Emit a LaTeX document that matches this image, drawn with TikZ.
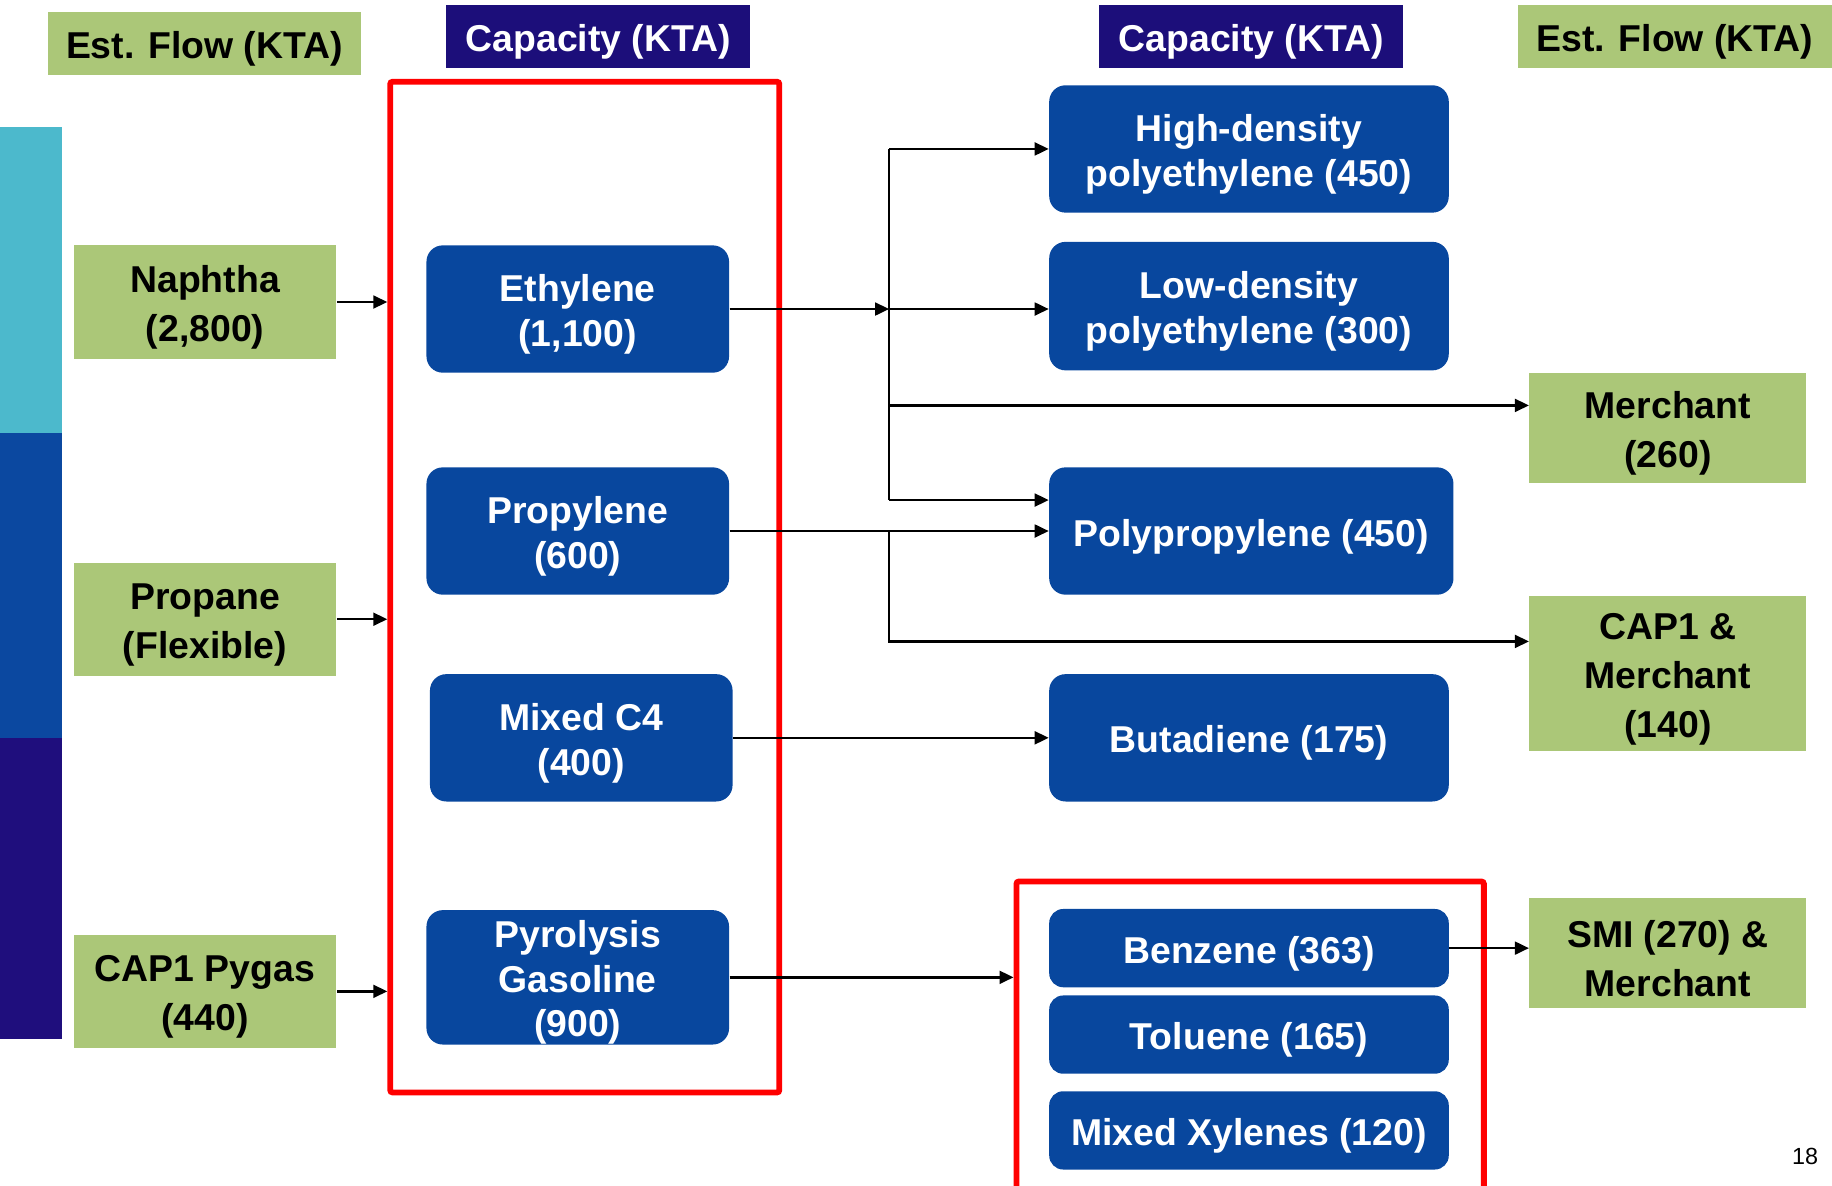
\documentclass[tikz,border=0pt]{standalone}
\usepackage{fontspec}
\setmainfont{Liberation Sans}
\usetikzlibrary{arrows.meta, positioning}
\definecolor{leafgreen}{RGB}{171,199,120}
\definecolor{headnavy}{RGB}{28,14,122}
\definecolor{boxblue}{RGB}{8,71,158}
\definecolor{barteal}{RGB}{76,185,204}
\definecolor{barblue}{RGB}{11,72,160}
\definecolor{barindigo}{RGB}{31,14,125}
\newcommand{\toppad}{\rule{0pt}{16.2pt}}
\tikzset{
	greenbox/.style 2 args={fill=leafgreen, inner sep=0pt, align=center, execute at begin node=\toppad,
		minimum width=#1, minimum height=#2, font=\fontsize{16}{21}\selectfont\bfseries}
}
\tikzset{
	headbox/.style={fill=headnavy, text=white, inner sep=0pt, minimum width=130pt, execute at begin node=\toppad,
		minimum height=27pt, font=\fontsize{16}{19}\selectfont\bfseries}
}
\tikzset{
	bluebox/.style 2 args={fill=boxblue, text=white, rounded corners=7pt, inner sep=0pt, execute at begin node=\toppad,
		align=center, minimum width=#1, minimum height=#2, font=\fontsize{16}{19.5}\selectfont\bfseries}
}
\tikzset{
	redframe/.style 2 args={draw=red, line width=2.5pt, rounded corners=1pt, inner sep=0pt,
		minimum width=#1, minimum height=#2}
}
\tikzset{
	flowarrow/.style={line width=1pt, -{Triangle[length=6pt, width=5.5pt]}}
}

\begin{document}
\begin{tikzpicture}[x=0.5pt, y=-0.5pt]
  \useasboundingbox (0,0) rectangle (1568,1015);
  % side bar
  \foreach \ya/\yb/\c in {109/371/barteal, 371/632/barblue, 632/889/barindigo}
    \fill[\c] (0,\ya) rectangle (53,\yb);
  % headers
  \node[greenbox={134pt}{27pt}] (flowl) at (175,37) {Est. Flow (KTA)};
  \node[headbox] (capl) at (512,31) {Capacity (KTA)};
  \node[headbox] (capr) at (1071,31) {Capacity (KTA)};
  \node[greenbox={134.5pt}{27pt}] (flowr) at (1433.5,31) {Est. Flow (KTA)};
  % feeds
  \node[greenbox={112.5pt}{48.5pt}] (naphtha) at (175.5,258.5) {\toppad Naphtha\\(2,800)};
  \node[greenbox={112.5pt}{48.5pt}] (propane) at (175.5,530) {\toppad Propane\\(Flexible)};
  \node[greenbox={112.5pt}{48.5pt}] (pygas) at (175.5,848.5) {\toppad CAP1 Pygas\\(440)};
  % cracker products
  \node[redframe={166.5pt}{432.5pt}] (crackerbox) at (500.5,502.5) {};
  \node[bluebox={129.5pt}{54.5pt}] (ethylene) at (494.5,264.5) {\toppad Ethylene\\(1,100)};
  \node[bluebox={129.5pt}{54.5pt}] (propylene) at (494.5,454.5) {\toppad Propylene\\(600)};
  \node[bluebox={129.5pt}{54.5pt}] (mixedc) at (497.5,631.5) {\toppad Mixed C4\\(400)};
  \node[bluebox={129.5pt}{54.5pt}, font=\fontsize{16}{19}\selectfont\bfseries] (pyrolysis) at (494.5,836.5) {\toppad Pyrolysis\\Gasoline\\(900)};
  % derivatives
  \node[bluebox={171pt}{54.5pt}] (hdpe) at (1069,127.5) {\toppad High-density\\polyethylene (450)};
  \node[bluebox={171pt}{55pt}] (ldpe) at (1069,262) {\toppad Low-density\\polyethylene (300)};
  \node[bluebox={173pt}{54.5pt}] (pp) at (1071,454.5) {Polypropylene (450)};
  \node[bluebox={171pt}{54.5pt}] (butadiene) at (1069,631.5) {Butadiene (175)};
  \node[redframe={200pt}{135pt}] (aromaticbox) at (1070,889.5) {};
  \node[bluebox={171pt}{33.5pt}, rounded corners=6pt] (benzene) at (1069,811.5) {Benzene (363)};
  \node[bluebox={171pt}{33.5pt}, rounded corners=6pt] (toluene) at (1069,885.5) {Toluene (165)};
  \node[bluebox={171pt}{33.5pt}, rounded corners=6pt] (xylenes) at (1069,967.5) {Mixed Xylenes (120)};
  % outlets
  \node[greenbox={118.5pt}{47pt}] (merchant) at (1427.5,366) {\toppad Merchant\\(260)};
  \node[greenbox={118.5pt}{66.5pt}] (capmerchant) at (1427.5,576.5) {\toppad CAP1 \&\\Merchant\\(140)};
  \node[greenbox={118.5pt}{47pt}] (smi) at (1427.5,816) {\toppad SMI (270) \&\\Merchant};
  \node[font=\fontsize{10}{12}\selectfont] (page) at (1545,990) {18};
  % flows
  \foreach \n in {naphtha, propane, pygas}
    \draw[flowarrow] (\n) -- (\n -| crackerbox.west);
  \coordinate (jn) at (761,264.5);
  \coordinate (jm) at (761,347);
  \coordinate (jpp) at (761,428);
  \coordinate (jc) at (761,549);
  \draw[flowarrow] (ethylene) -- (jn);
  \draw[flowarrow] (jn) -- (jn -| ldpe.west);
  \draw[line width=1pt] (jn |- hdpe) -- (jpp);
  \draw[flowarrow] (jn |- hdpe) -- (hdpe);
  \draw[flowarrow] (jm) -- (jm -| merchant.west);
  \draw[flowarrow] (jpp) -- (jpp -| pp.west);
  \draw[flowarrow] (propylene) -- (pp);
  \draw[flowarrow] (jn |- propylene) -- (jc) -- (jc -| capmerchant.west);
  \draw[flowarrow] (mixedc) -- (butadiene);
  \draw[flowarrow] (pyrolysis) -- (pyrolysis -| aromaticbox.west);
  \draw[flowarrow] (benzene) -- (benzene -| smi.west);
\end{tikzpicture}
\end{document}
